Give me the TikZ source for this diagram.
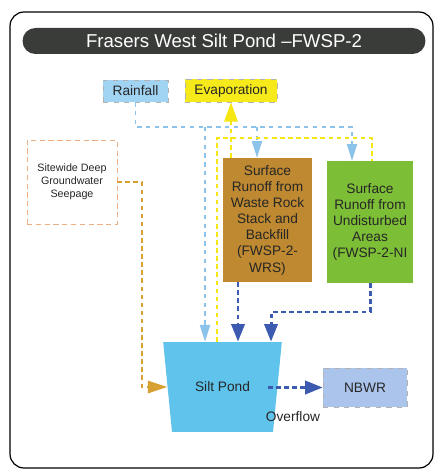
\documentclass[tikz,border=0pt]{standalone}
\usepackage{fontspec}
\setmainfont{Liberation Sans}
\usetikzlibrary{shapes.geometric,arrows.meta}

\definecolor{titlegray}{RGB}{58,60,58}
\definecolor{rainblue}{RGB}{160,212,242}
\definecolor{evapyellow}{RGB}{246,234,26}
\definecolor{wrsbrown}{RGB}{190,137,48}
\definecolor{nigreen}{RGB}{125,190,55}
\definecolor{pondblue}{RGB}{95,195,235}
\definecolor{nbwrblue}{RGB}{170,196,236}
\definecolor{flowblue}{RGB}{60,90,175}
\definecolor{rainline}{RGB}{140,195,235}
\definecolor{evapline}{RGB}{245,230,20}
\definecolor{seepline}{RGB}{215,160,50}
\definecolor{seepedge}{RGB}{238,175,130}

\tikzset{
  txt/.style={font=\fontsize{7.8}{9.2}\selectfont, text=black!85},
  box/.style={txt, draw=gray!60, dashed, line width=0.3pt, align=center, inner sep=1pt},
  darkflow/.style={draw=flowblue, line width=1.7pt, dash pattern=on 2.8pt off 1.8pt,
    -{Triangle[width=7.5pt,length=10pt]}},
  rainflow/.style={draw=rainline, line width=0.8pt, dash pattern=on 2.5pt off 2.5pt},
  rainarrow/.style={rainflow, -{Triangle[width=5.8pt,length=9.5pt]}},
  evapflow/.style={draw=evapline, line width=1.3pt, dash pattern=on 2.6pt off 2pt},
  seepflow/.style={draw=seepline, line width=1.2pt, dash pattern=on 2.6pt off 2pt}
}

\begin{document}
\begin{tikzpicture}[x=0.02cm, y=-0.02cm]
\useasboundingbox (0,0) rectangle (437,472);
\draw[line width=0.7pt, rounded corners=8pt] (10,12) rectangle (433,468);

\node[fill=titlegray, rounded corners=7.3pt, minimum width=8.06cm, minimum height=0.52cm,
  text=white, font=\fontsize{10.6}{12}\selectfont] (title) at (224,41) {Frasers West Silt Pond –FWSP-2};

\node[box, fill=rainblue, minimum width=1.3cm, minimum height=0.44cm] (rain) at (135.5,91) {Rainfall};
\node[box, fill=evapyellow, minimum width=1.84cm, minimum height=0.46cm] (evap) at (231,90.5) {Evaporation};
\node[box, draw=seepedge, densely dashed, minimum width=1.8cm, minimum height=1.68cm,
  font=\fontsize{6.1}{7.4}\selectfont] (seep) at (72,182) {Sitewide Deep\\Groundwater\\Seepage};
\node[box, draw=none, fill=wrsbrown, minimum width=1.78cm, minimum height=2.48cm] (wrs) at (267.5,220)
  {Surface\\Runoff from\\Waste Rock\\Stack and\\Backfill\\(FWSP-2-\\WRS)};
\node[box, draw=none, fill=nigreen, minimum width=1.72cm, minimum height=2.44cm] (ni) at (370,222)
  {Surface\\Runoff from\\Undisturbed\\Areas\\(FWSP-2-NI};
\node[txt, trapezium, shape border rotate=180, trapezium left angle=75, trapezium right angle=75,
  trapezium stretches=true, fill=pondblue, minimum width=2.38cm, minimum height=1.8cm] (pond) at (222.5,387) {Silt Pond};
\node[box, fill=nbwrblue, minimum width=1.68cm, minimum height=0.78cm] (nbwr) at (365,387.5) {NBWR};
\node[txt] (ovf) at (293,417) {Overflow};

% rainfall
\draw[rainarrow] (rain.south) |- (352,127) -- (352,0 |- ni.north);
\draw[rainarrow] (205,127) -- (205,0 |- pond.north);
\draw[rainarrow] (257,127) -- (257,0 |- wrs.north);

% evaporation
\draw[evapflow] (217,0 |- pond.north) -- (217,138) -- (372,138) -- (372,0 |- ni.north);
\draw[evapflow, -{Triangle[width=7.5pt,length=11pt]}] (evap.south |- wrs.north) -- (evap.south);

% seepage
\draw[seepflow, -{Triangle[width=7pt,length=11pt]}] (seep.east) -- (142,182) |- (pond.west);

% runoff to pond
\draw[darkflow] (238,0 |- wrs.south) -- (238,0 |- pond.north);
\draw[darkflow] (370,0 |- ni.south) |- (271,312) -- (271,0 |- pond.north);
\draw[darkflow] (268,0 |- nbwr.west) -- (nbwr.west);
\end{tikzpicture}
\end{document}
